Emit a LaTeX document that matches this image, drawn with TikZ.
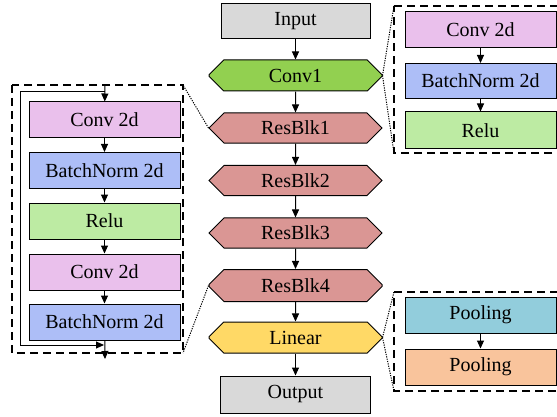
\documentclass[tikz,border=0pt]{standalone}
\usepackage{fontspec}
\setmainfont{Liberation Serif}
\usetikzlibrary{shapes.misc,arrows.meta}
\definecolor{cgray}{HTML}{D9D9D9}
\definecolor{cgreen}{HTML}{92D050}
\definecolor{cres}{HTML}{DA9694}
\definecolor{cyel}{HTML}{FFD966}
\definecolor{cconv}{HTML}{EAC0EC}
\definecolor{cbn}{HTML}{ADBEF7}
\definecolor{crelu}{HTML}{BDEBA3}
\definecolor{cpool}{HTML}{92CDDC}
\definecolor{cpool2}{HTML}{F9C49C}
\tikzset{
  lab/.style={font=\fontsize{20}{22}\selectfont, inner sep=0pt, line width=1pt, draw=black},
  rbox/.style={lab, rectangle, minimum width=150, minimum height=36},
  hexa/.style={lab, chamfered rectangle, chamfered rectangle xsep=49pt, chamfered rectangle ysep=8pt, minimum width=173, minimum height=31},
  arr/.style={line width=1pt, -{Triangle[length=8pt,width=7pt]}},
  dbox/.style={line width=1.1pt, dash pattern=on 8pt off 5pt},
  dline/.style={line width=1pt, dash pattern=on 1.2pt off 1.2pt}
}
\begin{document}
\begin{tikzpicture}[x=1pt,y=-1pt]
\useasboundingbox (0,0) rectangle (557,417);
% centre column
\node[rbox, fill=cgray, minimum width=149, minimum height=35] (in) at (295.5,21.5) {Input};
\node[hexa, fill=cgreen] (c1) at (295.5,75.5) {Conv1};
\node[hexa, fill=cres, minimum height=30] (r1) at (295.5,128) {ResBlk1};
\node[hexa, fill=cres, minimum height=30] (r2) at (295.5,180.5) {ResBlk2};
\node[hexa, fill=cres, minimum height=30] (r3) at (295.5,233) {ResBlk3};
\node[hexa, fill=cres, minimum height=32] (r4) at (295.5,285.5) {ResBlk4};
\node[hexa, fill=cyel] (lin) at (295.5,337.5) {Linear};
\node[rbox, fill=cgray, minimum width=150, minimum height=37] (out) at (295.5,394.5) {Output};
\draw[arr] (in) -- (c1);
\draw[arr] (c1) -- (r1);
\draw[arr] (r1) -- (r2);
\draw[arr] (r2) -- (r3);
\draw[arr] (r3) -- (r4);
\draw[arr] (r4) -- (lin);
\draw[arr] (lin) -- (out);
% left residual block detail
\coordinate (lnw) at (12,85);
\coordinate (lse) at (183,353);
\coordinate (lne) at (183,85);
\draw[dbox] (lnw) rectangle (lse);
\node[rbox, fill=cconv, minimum width=151] (l1) at (104.5,120) {Conv 2d};
\node[rbox, fill=cbn, minimum width=151] (l2) at (104.5,170.5) {BatchNorm 2d};
\node[rbox, fill=crelu, minimum width=151] (l3) at (104.5,221) {Relu};
\node[rbox, fill=cconv, minimum width=151] (l4) at (104.5,272) {Conv 2d};
\node[rbox, fill=cbn, minimum width=151] (l5) at (104.5,322) {BatchNorm 2d};
\coordinate (ltop) at (105,85);
\coordinate (lsk1) at (105,92);
\coordinate (lsk2) at (20,92);
\coordinate (lsk3) at (20,345);
\coordinate (lsk4) at (104,345);
\coordinate (lbot) at (105,359);
\draw[arr] (ltop) -- (l1);
\draw[arr] (l1) -- (l2);
\draw[arr] (l2) -- (l3);
\draw[arr] (l3) -- (l4);
\draw[arr] (l4) -- (l5);
\draw[arr] (l5) -- (lbot);
\draw[arr] (lsk1) -- (lsk2) -- (lsk3) -- (lsk4);
\draw[dline] (r1.west) -- (lne);
\draw[dline] (r4.west) -- (lse);
% right top detail
\coordinate (tnw) at (394,6);
\coordinate (tsw) at (394,153);
\draw[dbox] (tnw) -- (562,6) -- (562,153) -- (tsw) -- cycle;
\node[rbox, fill=cconv, minimum width=151] (t1) at (480.5,30) {Conv 2d};
\node[rbox, fill=cbn, minimum width=151, minimum height=35] (t2) at (480.5,81) {BatchNorm 2d};
\node[rbox, fill=crelu, minimum width=151, minimum height=37] (t3) at (480.5,130.5) {Relu};
\draw[arr] (t1) -- (t2);
\draw[arr] (t2) -- (t3);
\draw[dline] (c1.east) -- (tnw);
\draw[dline] (c1.east) -- (tsw);
% right bottom detail
\coordinate (bnw) at (394,292);
\coordinate (bsw) at (394,391);
\draw[dbox] (bnw) -- (562,292) -- (562,391) -- (bsw) -- cycle;
\node[rbox, fill=cpool, minimum width=151] (p1) at (480.5,315) {Pooling};
\node[rbox, fill=cpool2, minimum width=151] (p2) at (480.5,367) {Pooling};
\draw[arr] (p1) -- (p2);
\draw[dline] (lin.east) -- (bnw);
\draw[dline] (lin.east) -- (bsw);
\end{tikzpicture}
\end{document}
